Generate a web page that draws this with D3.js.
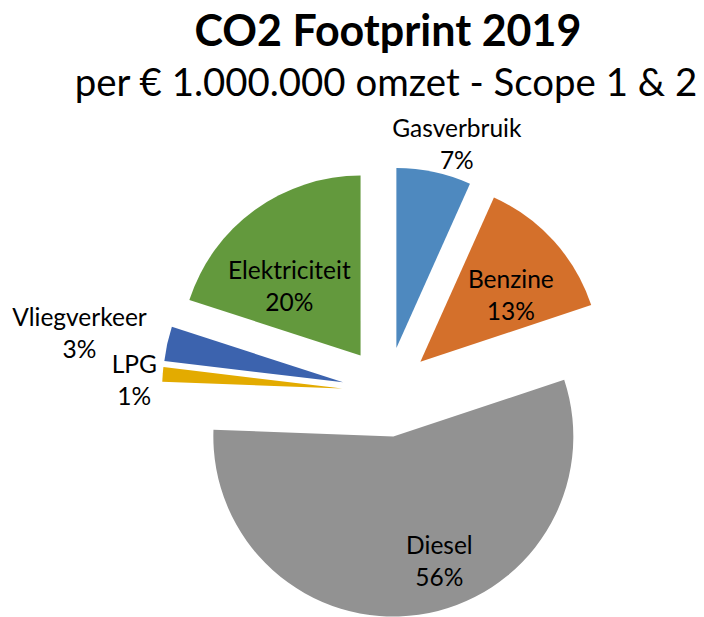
<!DOCTYPE html>
<html>
<head>
<meta charset="utf-8">
<script src="https://cdn.jsdelivr.net/npm/d3@7"></script>
<style>
  html, body { margin: 0; padding: 0; background: #fff; }
  svg { display: block; }
  text { font-family: Lato, "Open Sans", sans-serif; fill: #000; }
</style>
</head>
<body>
<svg id="chart" width="704" height="617"></svg>
<script>
// ---- data ----
const categories = ["Gasverbruik", "Benzine", "Diesel", "LPG", "Vliegverkeer", "Elektriciteit"];
const shares     = [6.7, 13.2, 55.7, 1.3, 3.1, 20.0];       // % of total
const shareLabels = ["7%", "13%", "56%", "1%", "3%", "20%"];
const colors     = ["#4E89BF", "#D4702B", "#929292", "#E3AB00", "#3C63AE", "#63993D"];
const titleText = "CO2 Footprint 2019";
const subtitleText = "per € 1.000.000 omzet - Scope 1 & 2";

// ---- layout ----
const W = 704, H = 617;
const cx = 387, cy = 392, R = 180, explode = 45;
// label placement relative to each exploded slice apex: [angle offset from mid (deg), distance]
const labelPlacement = [[4.5, 212], [6, 112], [-12, 134], [-2.5, 208], [-2, 268], [-10, 99]];

const svg = d3.select("#chart");

svg.append("text").attr("x", 388).attr("y", 46).attr("text-anchor", "middle")
  .style("font-weight", "700").style("font-size", "43px").text(titleText);
svg.append("text").attr("x", 386).attr("y", 96).attr("text-anchor", "middle")
  .style("font-size", "38.4px").text(subtitleText);

const data = categories.map((c, i) => ({ name: c, value: shares[i], label: shareLabels[i], color: colors[i], i }));
const pie = d3.pie().value(d => d.value).sort(null).startAngle(0).endAngle(2 * Math.PI);
const arc = d3.arc().innerRadius(0).outerRadius(R);
const arcs = pie(data);

const g = svg.append("g").attr("transform", `translate(${cx},${cy})`);

const slices = g.selectAll("g.slice").data(arcs).join("g").attr("class", "slice")
  .attr("transform", d => {
    const mid = (d.startAngle + d.endAngle) / 2;
    const [dx, dy] = d3.pointRadial(mid, explode);
    return `translate(${dx},${dy})`;
  });

slices.append("path").attr("d", arc).attr("fill", d => d.data.color);

slices.each(function(d) {
  const mid = (d.startAngle + d.endAngle) / 2;
  const [aOff, dist] = labelPlacement[d.data.i];
  const [lx, ly] = d3.pointRadial(mid + aOff * Math.PI / 180, dist);
  const t = d3.select(this).append("text").attr("text-anchor", "middle")
    .style("font-size", "24.5px");
  t.append("tspan").attr("x", lx).attr("y", ly - 16 + 8).text(d.data.name);
  t.append("tspan").attr("x", lx).attr("y", ly + 16 + 8).text(d.data.label);
});
</script>
</body>
</html>
